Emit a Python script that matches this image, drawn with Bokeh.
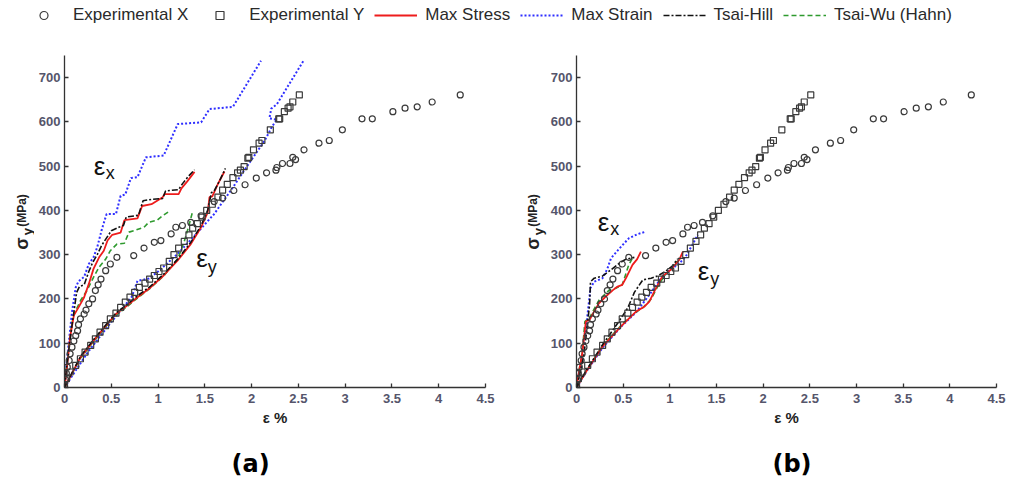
import math
from bokeh.plotting import figure
from bokeh.models import Range1d, FixedTicker, Label, Legend, LegendItem
from bokeh.layouts import column, row
from bokeh.embed import file_html
from bokeh.resources import INLINE

# ---------------- data ----------------
# Experimental X (circles): strain % and stress MPa
exp_x_strain = [0.00, 0.01, 0.02, 0.03, 0.05, 0.06, 0.08, 0.10, 0.12, 0.14, 0.15, 0.17, 0.21, 0.23,
                0.26, 0.30, 0.33, 0.36, 0.39, 0.44, 0.49, 0.56, 0.74, 0.85, 0.96, 1.03, 1.14, 1.19,
                1.26, 1.35, 1.46, 1.60, 1.69, 1.81, 1.93, 2.05, 2.16, 2.26, 2.27, 2.33, 2.41, 2.44,
                2.47, 2.56, 2.72, 2.83, 2.97, 3.18, 3.29, 3.51, 3.64, 3.77, 3.93, 4.23]
exp_x_stress = [5, 18, 32, 46, 61, 76, 91, 105, 117, 128, 142, 155, 166, 175,
                189, 200, 219, 232, 245, 264, 279, 294, 298, 315, 328, 332, 347, 362,
                366, 373, 388, 420, 428, 445, 458, 473, 485, 491, 497, 506, 506, 520,
                515, 537, 552, 558, 582, 607, 607, 623, 631, 634, 645, 661]
# Experimental Y (squares)
exp_y_strain = [0.00, 0.02, 0.06, 0.12, 0.17, 0.22, 0.28, 0.33, 0.38, 0.44, 0.49, 0.55, 0.60, 0.65,
                0.70, 0.75, 0.80, 0.86, 0.91, 0.96, 1.01, 1.06, 1.12, 1.17, 1.22, 1.28, 1.33, 1.37,
                1.42, 1.47, 1.52, 1.58, 1.64, 1.69, 1.74, 1.80, 1.85, 1.88, 1.92, 1.96, 1.97, 2.02,
                2.08, 2.11, 2.20, 2.29, 2.30, 2.35, 2.39, 2.41, 2.44, 2.51]
exp_y_stress = [5, 20, 35, 50, 65, 80, 95, 110, 125, 140, 155, 168, 181, 193,
                204, 215, 226, 236, 245, 253, 262, 270, 285, 300, 315, 330, 345, 360,
                370, 385, 400, 414, 430, 446, 459, 474, 485, 491, 499, 518, 520, 537,
                552, 558, 582, 607, 607, 623, 631, 634, 645, 661]

# ---- panel (a) predictions ----
a_maxstress_x_strain = [0, 0.01, 0.03, 0.06, 0.10, 0.15, 0.21, 0.26, 0.31, 0.37, 0.42, 0.46, 0.51,
                        0.60, 0.64, 0.78, 0.83, 0.93, 1.05, 1.07, 1.22, 1.25, 1.31, 1.39]
a_maxstress_x_stress = [0, 16, 53, 114, 163, 181, 204, 234, 268, 294, 309, 332, 345,
                        350, 378, 382, 410, 414, 430, 437, 437, 450, 465, 487]
a_maxstress_y_strain = [0, 0.17, 0.31, 0.46, 0.55, 0.67, 0.78, 0.92, 1.06, 1.21, 1.35, 1.46, 1.53,
                        1.55, 1.58, 1.64, 1.71]
a_maxstress_y_stress = [0, 68, 106, 144, 166, 185, 204, 226, 253, 287, 324, 362, 395,
                        430, 432, 460, 488]

a_maxstrain_x_strain = [0, 0.02, 0.05, 0.08, 0.12, 0.15, 0.21, 0.26, 0.31, 0.35, 0.40, 0.45, 0.55,
                        0.60, 0.65, 0.71, 0.78, 0.87, 1.06, 1.21, 1.46, 1.55, 1.80, 2.10]
a_maxstrain_x_stress = [0, 50, 110, 170, 226, 240, 250, 279, 294, 317, 358, 392, 392,
                        433, 436, 473, 475, 520, 524, 595, 599, 629, 634, 738]
a_maxstrain_y_strain = [0, 0.25, 0.50, 0.72, 0.78, 0.90, 1.00, 1.20, 1.40, 1.60, 1.80, 1.92, 2.03,
                        2.14, 2.22, 2.27, 2.19, 2.21, 2.27, 2.56]
a_maxstrain_y_stress = [0, 80, 148, 205, 241, 246, 262, 300, 345, 392, 452, 490, 524,
                        558, 590, 605, 608, 630, 640, 740]

a_tsaihill_x_strain = [0, 0.02, 0.05, 0.08, 0.10, 0.13, 0.16, 0.21, 0.26, 0.30, 0.35, 0.40, 0.45,
                       0.50, 0.58, 0.63, 0.66, 0.79, 0.84, 0.93, 1.05, 1.08, 1.22, 1.26, 1.32, 1.39]
a_tsaihill_x_stress = [0, 40, 90, 140, 170, 215, 228, 232, 262, 282, 300, 322, 338,
                       354, 362, 366, 385, 389, 422, 425, 427, 444, 447, 460, 476, 492]
a_tsaihill_y_strain = [0, 0.17, 0.31, 0.46, 0.55, 0.67, 0.78, 0.92, 1.06, 1.21, 1.35, 1.46, 1.53,
                       1.57, 1.60, 1.66, 1.72]
a_tsaihill_y_stress = [0, 70, 108, 146, 168, 188, 207, 229, 256, 290, 328, 366, 400,
                       440, 444, 468, 495]

a_tsaiwu_x_strain = [0, 0.02, 0.05, 0.08, 0.10, 0.17, 0.24, 0.31, 0.37, 0.44, 0.49, 0.56, 0.64,
                     0.69, 0.74, 0.85, 0.90, 0.99, 1.05, 1.12]
a_tsaiwu_x_stress = [0, 45, 100, 145, 165, 196, 219, 249, 272, 290, 309, 324, 326,
                     351, 354, 362, 373, 378, 388, 398]
a_tsaiwu_y_strain = [0, 0.17, 0.31, 0.46, 0.55, 0.67, 0.78, 0.92, 1.06, 1.21, 1.28, 1.33, 1.37]
a_tsaiwu_y_stress = [0, 66, 104, 142, 163, 183, 202, 225, 252, 290, 330, 366, 398]

# ---- panel (b) predictions ----
b_maxstress_x_strain = [0, 0.03, 0.06, 0.08, 0.10, 0.14, 0.19, 0.24, 0.31, 0.39, 0.44, 0.49, 0.53,
                        0.60, 0.65, 0.69]
b_maxstress_x_stress = [0, 40, 74, 110, 149, 153, 172, 190, 205, 220, 228, 232, 247,
                        277, 290, 307]
b_maxstress_y_strain = [0, 0.10, 0.28, 0.49, 0.64, 0.73, 0.78, 0.85, 0.92, 1.01, 1.10, 1.14]
b_maxstress_y_stress = [0, 35, 93, 141, 172, 183, 194, 224, 251, 266, 288, 307]

b_maxstrain_x_strain = [0, 0.05, 0.10, 0.15, 0.19, 0.28, 0.33, 0.37, 0.46, 0.56, 0.65, 0.74]
b_maxstrain_x_stress = [0, 60, 130, 225, 239, 247, 268, 292, 314, 337, 346, 352]
b_maxstrain_y_strain = [0, 0.10, 0.28, 0.49, 0.64, 0.80, 0.90, 1.00, 1.10, 1.17, 1.24, 1.30]
b_maxstrain_y_stress = [0, 34, 90, 140, 170, 215, 245, 265, 280, 296, 322, 345]

b_tsaihill_x_strain = [0, 0.04, 0.08, 0.12, 0.14, 0.15, 0.19, 0.28, 0.37, 0.46, 0.53, 0.58, 0.62]
b_tsaihill_x_stress = [0, 35, 74, 149, 187, 239, 247, 252, 266, 281, 290, 292, 294]
b_tsaihill_y_strain = [0, 0.10, 0.28, 0.45, 0.55, 0.62, 0.71, 0.80, 0.87, 0.95, 1.03, 1.08]
b_tsaihill_y_stress = [0, 37, 97, 148, 180, 215, 243, 247, 252, 262, 275, 290]

b_tsaiwu_x_strain = [0, 0.03, 0.06, 0.09, 0.14, 0.24, 0.35, 0.42, 0.49, 0.56, 0.61]
b_tsaiwu_x_stress = [0, 42, 74, 149, 158, 197, 220, 224, 232, 277, 296]
b_tsaiwu_y_strain = [0, 0.10, 0.28, 0.49, 0.62, 0.71, 0.80, 0.88, 0.95, 1.02, 1.08]
b_tsaiwu_y_stress = [0, 36, 95, 143, 168, 180, 200, 232, 255, 268, 285]

x_ticks = [0, 0.5, 1, 1.5, 2, 2.5, 3, 3.5, 4, 4.5]
x_tick_labels = ["0", "0.5", "1", "1.5", "2", "2.5", "3", "3.5", "4", "4.5"]
y_ticks = [0, 100, 200, 300, 400, 500, 600, 700]
y_tick_labels = ["0", "100", "200", "300", "400", "500", "600", "700"]

series_names = ["Experimental X", "Experimental Y", "Max Stress", "Max Strain", "Tsai-Hill", "Tsai-Wu (Hahn)"]
panel_letters = ["(a)", "(b)"]

# ---------------- styles ----------------
FONT = "Liberation Sans"
MARKER = dict(size=6, fill_color=None, line_color="#3a3a3a", line_width=1.2)
LINE_STYLE = {
    "Max Stress": dict(line_color="#ee1c1c", line_width=1.8),
    "Max Strain": dict(line_color="#2f2fff", line_width=2.0, line_dash="2 2"),
    "Tsai-Hill": dict(line_color="#111111", line_width=1.6, line_dash="6 2 2 2"),
    "Tsai-Wu (Hahn)": dict(line_color="#2e9a2e", line_width=1.6, line_dash="5 3"),
}
TOP, FH, BOT = 25, 332, 48


def blank(width, x_range, y_range, **kw):
    f = figure(width=width, x_range=x_range, y_range=y_range, toolbar_location=None,
               output_backend="svg", min_border=0, **kw)
    f.axis.visible = False
    f.grid.visible = False
    f.outline_line_color = None
    return f


def make_panel(lines, left, right, fw, ann):
    p = figure(frame_width=fw, frame_height=FH, min_border_left=left, min_border_right=right,
               min_border_top=TOP, min_border_bottom=BOT,
               x_range=Range1d(0, 4.5), y_range=Range1d(0, 750),
               toolbar_location=None, output_backend="svg")
    p.grid.visible = False
    p.outline_line_color = None

    for name, xs, ys in lines:
        p.line(xs, ys, **LINE_STYLE[name])
    p.scatter(exp_x_strain, exp_x_stress, marker="circle", **MARKER)
    p.scatter(exp_y_strain, exp_y_stress, marker="square", **MARKER)

    for ax in (p.xaxis[0], p.yaxis[0]):
        ax.axis_line_color = "#333333"
        ax.axis_line_width = 1.3
        ax.major_tick_in = 4
        ax.major_tick_out = 0
        ax.major_tick_line_color = "#333333"
        ax.major_tick_line_width = 1.3
        ax.minor_tick_line_color = None
        ax.major_label_text_font = FONT
        ax.major_label_text_font_size = "13px"
        ax.major_label_text_font_style = "bold"
        ax.major_label_text_color = "#55556b"
    p.xaxis.ticker = FixedTicker(ticks=x_ticks)
    p.xaxis.major_label_overrides = {t: s for t, s in zip(x_ticks, x_tick_labels)}
    p.yaxis.ticker = FixedTicker(ticks=y_ticks)
    p.yaxis.major_label_overrides = {t: s for t, s in zip(y_ticks, y_tick_labels)}
    p.xaxis.major_label_standoff = 6
    p.yaxis.major_label_standoff = 4
    p.xaxis.axis_label = "ε %"
    p.xaxis.axis_label_text_font = FONT
    p.xaxis.axis_label_text_font_size = "15px"
    p.xaxis.axis_label_text_font_style = "bold"
    p.xaxis.axis_label_text_color = "#222222"
    p.xaxis.axis_label_standoff = 3

    # epsilon annotations
    for (ex, ey, sub, subx, suby) in ann:
        p.add_layout(Label(x=ex, y=ey, text="ε", text_font=FONT, text_font_size="26px",
                           text_color="#111111", text_align="center", text_baseline="middle"))
        p.add_layout(Label(x=subx, y=suby, text=sub, text_font=FONT, text_font_size="18px",
                           text_color="#111111", text_align="center", text_baseline="middle"))
    return p


def make_ylabel(width, y_range, sx, sub_x):
    f = blank(width, Range1d(0, 1), y_range, frame_height=FH, min_border_top=TOP,
              min_border_bottom=BOT)
    f.add_layout(Label(x=sx, y=325, text="σ", angle=math.pi / 2, text_font=FONT,
                       text_font_size="18px", text_font_style="bold", text_color="#222222",
                       text_align="center", text_baseline="middle"))
    f.add_layout(Label(x=sub_x, y=352, text="y", angle=math.pi / 2, text_font=FONT,
                       text_font_size="13px", text_font_style="bold", text_color="#222222",
                       text_align="center", text_baseline="middle"))
    f.add_layout(Label(x=sx, y=363, text="(MPa)", angle=math.pi / 2, text_font=FONT,
                       text_font_size="12px", text_font_style="bold", text_color="#222222",
                       text_align="left", text_baseline="middle"))
    return f


def make_letter(left, fw, right, x_range, lx, letter):
    f = blank(left + fw + right, x_range, Range1d(0, 1), height=46)
    f.min_border_left = left
    f.min_border_right = right
    f.add_layout(Label(x=lx, y=0.37, text=letter, text_font="DejaVu Sans", text_font_size="24px",
                       text_font_style="bold", text_color="#000000",
                       text_align="center", text_baseline="middle"))
    return f


lines_a = [
    ("Max Strain", a_maxstrain_x_strain, a_maxstrain_x_stress),
    ("Max Strain", a_maxstrain_y_strain, a_maxstrain_y_stress),
    ("Tsai-Wu (Hahn)", a_tsaiwu_x_strain, a_tsaiwu_x_stress),
    ("Tsai-Wu (Hahn)", a_tsaiwu_y_strain, a_tsaiwu_y_stress),
    ("Max Stress", a_maxstress_x_strain, a_maxstress_x_stress),
    ("Max Stress", a_maxstress_y_strain, a_maxstress_y_stress),
    ("Tsai-Hill", a_tsaihill_x_strain, a_tsaihill_x_stress),
    ("Tsai-Hill", a_tsaihill_y_strain, a_tsaihill_y_stress),
]
lines_b = [
    ("Max Strain", b_maxstrain_x_strain, b_maxstrain_x_stress),
    ("Max Strain", b_maxstrain_y_strain, b_maxstrain_y_stress),
    ("Tsai-Wu (Hahn)", b_tsaiwu_x_strain, b_tsaiwu_x_stress),
    ("Tsai-Wu (Hahn)", b_tsaiwu_y_strain, b_tsaiwu_y_stress),
    ("Max Stress", b_maxstress_x_strain, b_maxstress_x_stress),
    ("Max Stress", b_maxstress_y_strain, b_maxstress_y_stress),
    ("Tsai-Hill", b_tsaihill_x_strain, b_tsaihill_x_stress),
    ("Tsai-Hill", b_tsaihill_y_strain, b_tsaihill_y_stress),
]

ann_a = [(0.375, 501, "x", 0.49, 485), (1.47, 293, "y", 1.58, 273)]
ann_b = [(0.29, 375, "x", 0.41, 357), (1.36, 264, "y", 1.48, 244)]

# horizontal geometry (px): [ylab_a 34][p1: 30 | 421 | 32][ylab_b 30][p2: 27 | 420 | 40]
p1 = make_panel(lines_a, 30, 32, 421, ann_a)
p2 = make_panel(lines_b, 27, 40, 420, ann_b)
ylab_a = make_ylabel(34, p1.y_range, 0.647, 0.80)
ylab_b = make_ylabel(30, p2.y_range, 0.533, 0.70)
ylab_a.frame_width = 34
ylab_b.frame_width = 30

let_a = make_letter(64, 421, 32, p1.x_range, 1.99, panel_letters[0])
let_b = make_letter(57, 420, 40, p2.x_range, 2.33, panel_letters[1])

# ---------------- legend strip ----------------
lg = blank(1034, Range1d(0, 1), Range1d(0, 1), height=30)
hidden_x, hidden_y = [5, 6], [5, 5]
r_cx = lg.scatter(hidden_x, hidden_y, marker="circle", **MARKER)
r_sq = lg.scatter(hidden_x, hidden_y, marker="square", **MARKER)
r_lines = [lg.line(hidden_x, hidden_y, **LINE_STYLE[n]) for n in series_names[2:]]
items = [LegendItem(label=series_names[0], renderers=[r_cx]),
         LegendItem(label=series_names[1], renderers=[r_sq])]
items += [LegendItem(label=n, renderers=[r]) for n, r in zip(series_names[2:], r_lines)]
legend = Legend(items=items, orientation="horizontal", location=(22, 5),
                glyph_width=43, glyph_height=20, label_standoff=8, spacing=10,
                padding=0, margin=0, border_line_alpha=0, background_fill_alpha=0,
                label_text_font=FONT, label_text_font_size="17px", label_text_color="#2a2a2a")
lg.add_layout(legend)

layout = column(lg, row(ylab_a, p1, ylab_b, p2), row(let_a, let_b))
open("out.html", "w").write(file_html(layout, INLINE))
